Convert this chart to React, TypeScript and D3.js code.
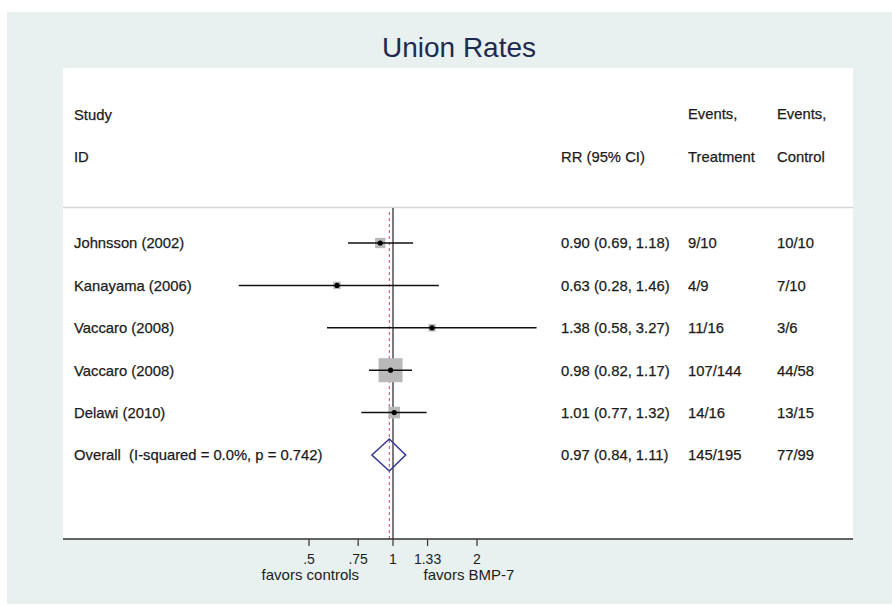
import * as d3 from "d3"

// study rows
const studies = ["Johnsson (2002)", "Kanayama (2006)", "Vaccaro (2008)", "Vaccaro (2008)", "Delawi (2010)"]
const rr = [0.9, 0.63, 1.38, 0.98, 1.01]
const lower = [0.69, 0.28, 0.58, 0.82, 0.77]
const upper = [1.18, 1.46, 3.27, 1.17, 1.32]
const weights = [11.5, 6, 6, 62, 14.5]
const eventsTreatment = ["9/10", "4/9", "11/16", "107/144", "14/16"]
const eventsControl = ["10/10", "7/10", "3/6", "44/58", "13/15"]

// pooled estimate
const overallLabel = "Overall  (I-squared = 0.0%, p = 0.742)"
const overallRR = 0.97
const overallLower = 0.84
const overallUpper = 1.11
const overallTreatment = "145/195"
const overallControl = "77/99"

const tickValues = [0.5, 0.75, 1, 1.33, 2]
const tickLabels = [".5", ".75", "1", "1.33", "2"]

const font = "'Liberation Sans', Arial, Helvetica, sans-serif"
const textColor = "#1c1c1c"

const fmt = (v: number) => v.toFixed(2)
const ciText = (e: number, l: number, u: number) => `${fmt(e)} (${fmt(l)}, ${fmt(u)})`

export default function App() {
  const width = 892
  const height = 605
  const plot = { left: 63, top: 68, right: 853, bottom: 539 }

  const x = d3.scaleLog().domain([0.5, 2]).range([309, 477])
  const rows = d3.range(studies.length + 1)
  const y = d3.scalePoint<number>().domain(rows).range([243, 455])
  const box = d3.scaleSqrt().domain([0, d3.max(weights) as number]).range([0, 24])

  const cols = { study: 74, rr: 561, treat: 688, ctrl: 777 }
  const ov = y(studies.length) as number
  const dh = 16
  const diamond = [
    [x(overallLower), ov],
    [x(overallRR), ov - dh],
    [x(overallUpper), ov],
    [x(overallRR), ov + dh],
  ]

  const txt = (s: string, tx: number, ty: number, anchor = "start", size = 14.8) => (
    <text
      x={tx}
      y={ty + size * 0.36}
      textAnchor={anchor}
      fontSize={size}
      fontFamily={font}
      fill={textColor}
      stroke={textColor}
      strokeWidth={0.25}
      style={{ whiteSpace: "pre" }}
    >
      {s}
    </text>
  )

  return (
    <svg width={width} height={height} style={{ position: "absolute", left: 0, top: 0 }}>
      <rect x={0} y={0} width={width} height={height} fill="#fff" />
      <rect x={7} y={12} width={885} height={592} fill="#e8f0f0" />
      <rect x={plot.left} y={plot.top} width={plot.right - plot.left} height={plot.bottom - plot.top} fill="#fff" />

      <text x={459} y={57} textAnchor="middle" fontSize={28} fontFamily={font} fill="#1f2a4f">
        Union Rates
      </text>

      {/* headers */}
      {txt("Study", cols.study, 115)}
      {txt("ID", cols.study, 157)}
      {txt("RR (95% CI)", cols.rr, 157)}
      {txt("Events,", cols.treat, 114)}
      {txt("Treatment", cols.treat, 157)}
      {txt("Events,", cols.ctrl, 114)}
      {txt("Control", cols.ctrl, 157)}
      <line x1={plot.left} x2={plot.right} y1={207.5} y2={207.5} stroke="#d6d6d6" strokeWidth={1.5} />

      {/* reference lines */}
      <line x1={x(1)} x2={x(1)} y1={208} y2={plot.bottom} stroke="#222" strokeWidth={1.2} />
      <line
        x1={x(overallRR)}
        x2={x(overallRR)}
        y1={212}
        y2={plot.bottom}
        stroke="#c24a63"
        strokeWidth={1}
        strokeDasharray="3,3"
      />

      {studies.map((s, i) => {
        const cy = y(i) as number
        const side = box(weights[i])
        return (
          <g key={i}>
            <rect x={x(rr[i]) - side / 2} y={cy - side / 2} width={side} height={side} fill="#b9b9b9" />
            <line x1={x(lower[i])} x2={x(upper[i])} y1={cy} y2={cy} stroke="#111" strokeWidth={1.5} />
            <circle cx={x(rr[i])} cy={cy} r={2.6} fill="#000" />
            {txt(s, cols.study, cy)}
            {txt(ciText(rr[i], lower[i], upper[i]), cols.rr, cy)}
            {txt(eventsTreatment[i], cols.treat, cy)}
            {txt(eventsControl[i], cols.ctrl, cy)}
          </g>
        )
      })}

      {/* overall */}
      <polygon points={diamond.map((p) => p.join(",")).join(" ")} fill="none" stroke="#3a3a96" strokeWidth={1.6} />
      {txt(overallLabel, cols.study, ov)}
      {txt(ciText(overallRR, overallLower, overallUpper), cols.rr, ov)}
      {txt(overallTreatment, cols.treat, ov)}
      {txt(overallControl, cols.ctrl, ov)}

      {/* axis */}
      <line x1={plot.left} x2={plot.right} y1={plot.bottom} y2={plot.bottom} stroke="#333" strokeWidth={1.6} />
      {tickValues.map((t, i) => (
        <g key={t}>
          <line x1={x(t)} x2={x(t)} y1={plot.bottom} y2={plot.bottom + 7} stroke="#333" strokeWidth={1.2} />
          <text x={x(t)} y={564} textAnchor="middle" fontSize={14} fontFamily={font} fill={textColor}>
            {tickLabels[i]}
          </text>
        </g>
      ))}
      <text x={x(0.75) + 1} y={580} textAnchor="end" fontSize={15} fontFamily={font} fill={textColor}>
        favors controls
      </text>
      <text x={x(1.33) - 4} y={580} textAnchor="start" fontSize={15} fontFamily={font} fill={textColor}>
        favors BMP-7
      </text>
    </svg>
  )
}
